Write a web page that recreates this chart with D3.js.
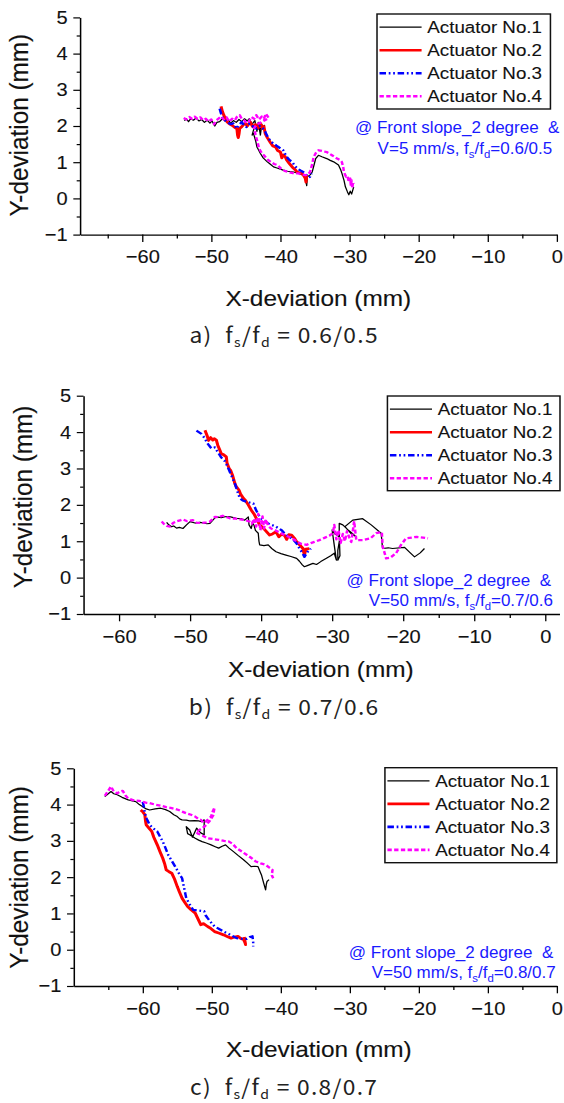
<!DOCTYPE html>
<html>
<head>
<meta charset="utf-8">
<script src="https://cdn.jsdelivr.net/npm/d3@7"></script>
<style>
  body { margin: 0; background: #fff; }
  svg text { font-family: Arial, "Liberation Sans", sans-serif; }
</style>
</head>
<body>
<div id="chart"></div>
<script>
// series labels and tick values
var seriesNames = ["Actuator No.1", "Actuator No.2", "Actuator No.3", "Actuator No.4"];
var xMajorTicks = [-60, -50, -40, -30, -20, -10, 0];
var xMinorTicks = [-65, -55, -45, -35, -25, -15, -5];
var yMajorTicks = [-1, 0, 1, 2, 3, 4, 5];
var yMinorTicks = [-0.5, 0.5, 1.5, 2.5, 3.5, 4.5];

var captionRatios = ["0.6/0.5", "0.7/0.6", "0.8/0.7"];
var speeds = ["5", "50", "50"];

// a) fs/fd = 0.6/0.5, V = 5 mm/s   [x-deviation, y-deviation]
var aAct1 = [[-53.9,2.15],[-53.6,2.2],[-53.3,2.12],[-53.0,2.2],[-52.6,2.16],[-52.2,2.22],[-51.8,2.14],[-51.4,2.18],[-51.0,2.1],[-50.6,2.16],[-50.2,2.08],[-49.9,2.14],[-49.5,2.0],[-49.2,2.1],[-48.8,2.12],[-48.4,2.2],[-48.0,2.14],[-47.6,2.18],[-47.2,2.08],[-46.8,2.15],[-46.4,2.1],[-46.0,2.18],[-45.6,2.12],[-45.2,2.2],[-44.8,2.14],[-44.5,2.2],[-44.1,2.05],[-43.7,2.15],[-43.4,1.85],[-43.2,2.1],[-42.9,1.75],[-42.7,2.05],[-42.5,1.9],[-42.3,2.02],[-42.6,1.95],[-43.2,1.92],[-43.8,1.95],[-44.1,1.75],[-43.9,1.8],[-43.6,1.6],[-43.4,1.42],[-43.2,1.35],[-42.9,1.24],[-42.5,1.12],[-41.9,1.01],[-41.5,0.95],[-41.0,0.87],[-40.5,0.84],[-39.6,0.78],[-39.0,0.75],[-38.1,0.73],[-37.5,0.7],[-36.7,0.64],[-36.4,0.55],[-36.2,0.35],[-36.1,0.6],[-35.7,0.65],[-35.4,0.73],[-35.1,0.95],[-34.9,1.1],[-34.5,1.19],[-34.0,1.15],[-33.3,1.1],[-32.8,1.05],[-32.3,1.01],[-31.6,0.92],[-31.3,0.8],[-31.1,0.69],[-30.8,0.5],[-30.6,0.32],[-30.3,0.18],[-30.1,0.1],[-29.9,0.2],[-29.7,0.12],[-29.5,0.25],[-29.4,0.32]];
var aAct2 = [[-48.6,2.54],[-48.4,2.4],[-48.2,2.3],[-47.9,2.18],[-47.7,2.11],[-47.4,2.06],[-47.0,2.02],[-46.6,1.96],[-46.3,1.93],[-46.2,1.75],[-46.1,1.68],[-46.0,1.78],[-45.9,1.93],[-45.6,1.98],[-45.3,2.05],[-45.1,2.07],[-44.8,2.0],[-44.4,2.11],[-44.0,1.98],[-43.6,2.04],[-43.2,1.95],[-42.9,2.07],[-42.6,1.94],[-42.4,1.99],[-42.2,1.79],[-41.9,1.68],[-41.5,1.56],[-41.1,1.45],[-40.7,1.42],[-40.4,1.32],[-40.0,1.28],[-39.8,1.12],[-39.6,1.2],[-39.3,1.15],[-39.1,1.06],[-38.7,0.96],[-38.3,0.87],[-37.9,0.8],[-37.6,0.73],[-37.2,0.7],[-36.9,0.69],[-36.6,0.62],[-36.4,0.55],[-36.3,0.45],[-36.2,0.64]];
var aAct3 = [[-48.8,2.48],[-48.6,2.35],[-48.4,2.24],[-48.0,2.15],[-47.7,2.11],[-47.2,2.05],[-46.8,2.07],[-46.5,1.98],[-46.3,1.93],[-46.0,2.02],[-45.6,2.11],[-45.2,2.0],[-44.9,1.97],[-44.5,2.06],[-44.1,2.02],[-43.8,1.95],[-43.4,1.93],[-43.0,2.0],[-42.7,1.97],[-42.4,1.9],[-42.2,1.84],[-41.9,1.72],[-41.7,1.65],[-41.3,1.56],[-41.0,1.51],[-40.6,1.46],[-40.3,1.42],[-40.0,1.38],[-39.6,1.33],[-39.3,1.22],[-39.1,1.15],[-38.7,1.06],[-38.3,1.01],[-38.0,0.92],[-37.6,0.83],[-37.1,0.77],[-36.7,0.73],[-36.2,0.64],[-35.9,0.58],[-35.7,0.6],[-35.5,0.69]];
var aAct4 = [[-54.0,2.22],[-53.6,2.18],[-53.2,2.25],[-52.8,2.2],[-52.4,2.26],[-52.0,2.2],[-51.6,2.24],[-51.2,2.16],[-50.8,2.2],[-50.4,2.12],[-50.0,2.18],[-49.6,2.05],[-49.3,2.15],[-49.0,2.2],[-48.6,2.26],[-48.2,2.18],[-47.8,2.24],[-47.4,2.12],[-47.0,2.2],[-46.6,2.16],[-46.3,2.25],[-45.9,2.3],[-45.6,2.2],[-45.2,2.15],[-44.9,2.08],[-44.6,2.12],[-44.2,2.25],[-43.8,2.2],[-43.5,2.3],[-43.1,2.18],[-42.7,2.26],[-42.4,2.2],[-42.1,2.34],[-41.9,2.28],[-41.7,2.22],[-42.8,2.1],[-43.4,2.05],[-43.8,1.95],[-43.6,1.75],[-43.3,1.55],[-43.1,1.38],[-42.7,1.25],[-42.4,1.19],[-41.9,1.08],[-41.4,1.01],[-40.9,0.95],[-40.4,0.92],[-39.9,0.82],[-39.4,0.76],[-38.9,0.73],[-38.2,0.7],[-37.4,0.69],[-36.9,0.66],[-36.4,0.64],[-36.0,0.66],[-35.7,0.74],[-35.4,0.95],[-35.2,1.14],[-34.9,1.25],[-34.5,1.33],[-34.0,1.31],[-33.3,1.28],[-32.6,1.2],[-31.8,1.1],[-31.3,1.05],[-31.1,1.0],[-30.9,0.85],[-30.8,0.72],[-30.5,0.6],[-30.3,0.62],[-30.1,0.45],[-29.9,0.55],[-29.8,0.35],[-29.7,0.5],[-29.6,0.28],[-29.5,0.45],[-29.4,0.4]];

// b) fs/fd = 0.7/0.6, V = 50 mm/s
var bAct1 = [[-53.3,1.52],[-53.0,1.45],[-52.6,1.4],[-52.3,1.42],[-51.9,1.36],[-51.5,1.38],[-51.0,1.35],[-50.5,1.45],[-50.0,1.54],[-49.3,1.5],[-48.6,1.52],[-47.6,1.48],[-47.2,1.49],[-46.6,1.62],[-46.3,1.67],[-45.6,1.65],[-44.9,1.68],[-44.3,1.67],[-43.5,1.63],[-42.8,1.62],[-42.3,1.58],[-41.8,1.67],[-41.7,1.45],[-41.4,1.35],[-41.2,1.5],[-41.0,1.44],[-40.8,1.3],[-40.4,1.22],[-40.3,1.0],[-40.2,0.9],[-39.6,0.88],[-39.0,0.9],[-38.5,0.8],[-37.9,0.71],[-37.2,0.66],[-36.5,0.62],[-35.8,0.58],[-35.0,0.53],[-34.6,0.45],[-34.2,0.35],[-33.9,0.3],[-33.5,0.33],[-32.7,0.39],[-32.2,0.36],[-31.6,0.44],[-30.8,0.53],[-30.2,0.6],[-29.7,0.67],[-29.4,0.48],[-29.6,0.75],[-30.0,1.31],[-29.6,1.2],[-29.2,1.15],[-28.9,1.1],[-29.2,0.75],[-29.2,0.48],[-28.9,0.6],[-29.0,1.2],[-29.0,1.49],[-28.5,1.45],[-27.8,1.32],[-27.2,1.22],[-26.6,1.12],[-27.3,1.2],[-28.2,1.4],[-27.1,1.58],[-25.7,1.62],[-24.5,1.45],[-23.1,1.22],[-22.9,0.8],[-22.1,0.82],[-21.5,0.8],[-19.8,0.83],[-19.0,0.68],[-18.4,0.57],[-17.6,0.68],[-17.0,0.8]];
var bAct2 = [[-47.9,4.05],[-47.6,3.9],[-47.4,3.77],[-47.1,3.85],[-46.8,3.78],[-46.6,3.82],[-46.3,3.78],[-46.1,3.64],[-45.8,3.5],[-45.6,3.4],[-45.3,3.38],[-44.9,3.32],[-44.8,3.15],[-44.5,3.0],[-44.3,2.95],[-44.0,2.8],[-43.7,2.59],[-43.5,2.5],[-43.1,2.4],[-42.9,2.3],[-42.5,2.18],[-42.2,2.12],[-41.8,2.0],[-41.4,1.86],[-41.0,1.75],[-40.6,1.6],[-40.2,1.45],[-39.8,1.38],[-39.4,1.3],[-38.8,1.17],[-38.4,1.2],[-37.9,1.26],[-37.5,1.12],[-37.1,1.2],[-36.7,1.16],[-36.4,1.05],[-36.1,1.18],[-35.7,1.17],[-35.3,1.08],[-35.0,0.99],[-34.7,0.93],[-34.1,0.8],[-34.0,0.7],[-33.9,0.62],[-33.7,0.78],[-33.2,0.8]];
var bAct3 = [[-49.1,4.04],[-48.4,3.95],[-47.9,3.82],[-47.6,3.7],[-47.0,3.55],[-46.5,3.58],[-46.1,3.45],[-45.6,3.3],[-45.1,3.2],[-44.7,3.04],[-44.3,2.86],[-43.7,2.59],[-43.3,2.35],[-43.0,2.18],[-42.6,2.12],[-42.0,2.08],[-41.1,2.04],[-40.7,1.85],[-40.2,1.67],[-39.6,1.55],[-38.8,1.47],[-37.9,1.4],[-37.1,1.3],[-36.5,1.17],[-36.0,1.12],[-35.5,1.05],[-35.0,0.94],[-34.6,0.8],[-34.2,0.68],[-33.9,0.57],[-33.5,0.7],[-33.0,0.8]];
var bAct4 = [[-54.0,1.54],[-53.7,1.48],[-53.3,1.42],[-52.8,1.4],[-52.4,1.5],[-51.9,1.55],[-51.3,1.58],[-51.0,1.6],[-50.4,1.55],[-49.6,1.58],[-49.1,1.51],[-48.4,1.5],[-47.7,1.52],[-47.2,1.54],[-46.9,1.6],[-46.5,1.67],[-46.0,1.66],[-45.4,1.7],[-44.8,1.66],[-44.4,1.63],[-43.6,1.62],[-42.9,1.6],[-42.3,1.58],[-41.6,1.54],[-41.3,1.48],[-41.0,1.62],[-40.7,1.4],[-40.4,1.75],[-40.1,1.3],[-39.8,1.68],[-39.6,1.35],[-39.3,1.6],[-39.0,1.42],[-38.6,1.35],[-38.0,1.3],[-37.2,1.22],[-36.5,1.15],[-35.8,1.1],[-35.0,1.0],[-34.4,0.93],[-33.6,0.9],[-33.0,0.95],[-32.5,0.98],[-31.8,1.03],[-31.0,1.1],[-30.4,1.15],[-29.9,1.22],[-29.7,1.45],[-29.4,1.05],[-29.1,1.3],[-28.8,0.95],[-28.5,1.2],[-28.2,1.0],[-27.9,1.28],[-27.5,1.05],[-27.3,0.98],[-26.9,1.55],[-26.6,1.03],[-25.7,1.03],[-24.6,1.08],[-23.8,1.22],[-23.0,1.25],[-22.9,0.87],[-22.4,0.53],[-21.8,0.55],[-21.0,0.67],[-20.3,0.9],[-19.6,1.08],[-18.8,1.1],[-18.1,1.12],[-17.2,1.1],[-16.5,1.08]];

// c) fs/fd = 0.8/0.7, V = 50 mm/s
var cAct1 = [[-65.5,4.22],[-65.0,4.3],[-64.6,4.36],[-64.2,4.3],[-63.7,4.27],[-63.0,4.2],[-62.1,4.13],[-61.5,4.1],[-61.0,4.08],[-60.5,4.0],[-60.0,3.94],[-59.5,3.88],[-59.0,3.85],[-58.2,3.88],[-57.4,3.9],[-56.7,3.86],[-56.1,3.81],[-55.5,3.72],[-55.0,3.67],[-54.6,3.6],[-54.3,3.58],[-53.7,3.57],[-53.2,3.55],[-52.5,3.56],[-51.9,3.55],[-51.5,3.53],[-51.1,3.58],[-51.1,3.4],[-51.1,3.17],[-51.6,3.22],[-52.2,3.35],[-52.8,3.1],[-53.2,3.3],[-53.7,3.39],[-53.5,3.2],[-53.2,3.17],[-52.8,3.12],[-52.4,3.07],[-51.9,3.02],[-51.4,2.98],[-50.8,2.94],[-50.1,2.89],[-49.5,2.84],[-49.0,2.8],[-48.5,2.85],[-48.0,2.89],[-47.5,2.8],[-46.9,2.71],[-46.2,2.6],[-45.4,2.48],[-44.8,2.38],[-44.3,2.29],[-43.8,2.3],[-43.3,2.29],[-43.0,2.15],[-42.8,2.06],[-42.5,1.85],[-42.2,1.65],[-42.1,1.8],[-42.0,1.88],[-41.7,1.93]];
var cAct2 = [[-60.3,3.85],[-60.0,3.8],[-59.7,3.72],[-59.6,3.55],[-59.5,3.44],[-59.1,3.35],[-58.7,3.26],[-58.4,3.1],[-57.9,2.89],[-57.5,2.7],[-57.1,2.52],[-56.8,2.35],[-56.6,2.2],[-56.2,2.15],[-55.8,2.11],[-55.4,1.95],[-55.0,1.74],[-54.7,1.6],[-54.3,1.42],[-53.9,1.3],[-53.5,1.19],[-53.0,1.1],[-52.4,1.01],[-52.0,0.85],[-51.6,0.69],[-51.2,0.72],[-50.6,0.64],[-50.1,0.58],[-49.6,0.5],[-49.0,0.46],[-48.3,0.41],[-47.7,0.36],[-47.2,0.32],[-46.7,0.35],[-46.2,0.37],[-45.8,0.31],[-45.4,0.28],[-45.2,0.2],[-45.1,0.14],[-45.3,0.35]];
var cAct3 = [[-60.0,4.08],[-59.8,3.9],[-59.7,3.76],[-59.4,3.6],[-59.0,3.44],[-58.5,3.35],[-57.9,3.26],[-57.5,3.12],[-57.1,2.98],[-56.7,2.8],[-56.3,2.61],[-55.8,2.45],[-55.3,2.29],[-54.8,2.12],[-54.3,1.97],[-54.0,1.7],[-53.7,1.42],[-53.2,1.25],[-52.7,1.1],[-52.0,1.08],[-51.1,1.06],[-50.9,0.95],[-50.6,0.87],[-50.1,0.75],[-49.6,0.64],[-49.0,0.58],[-48.3,0.5],[-47.4,0.42],[-46.4,0.32],[-45.6,0.3],[-44.9,0.3],[-44.5,0.35],[-44.1,0.37],[-44.0,0.2],[-44.0,0.09]];
var cAct4 = [[-65.5,4.24],[-65.0,4.38],[-64.6,4.5],[-64.2,4.36],[-63.7,4.31],[-63.3,4.36],[-62.9,4.38],[-62.5,4.25],[-62.1,4.17],[-61.5,4.13],[-61.0,4.11],[-60.5,4.1],[-60.0,4.08],[-59.5,4.05],[-59.0,4.04],[-58.2,4.0],[-57.4,3.97],[-56.6,3.93],[-55.8,3.9],[-55.3,3.88],[-54.8,3.85],[-54.2,3.8],[-53.7,3.76],[-53.0,3.72],[-52.4,3.67],[-51.9,3.6],[-51.6,3.58],[-51.2,3.5],[-50.9,3.53],[-50.5,3.6],[-50.1,3.67],[-49.9,3.8],[-49.6,3.92],[-49.8,3.7],[-50.3,3.55],[-51.0,3.4],[-51.8,3.3],[-52.3,3.25],[-52.0,3.2],[-51.6,3.17],[-51.1,3.12],[-50.6,3.07],[-49.8,3.05],[-49.0,3.03],[-48.2,3.0],[-47.5,2.98],[-47.0,2.92],[-46.4,2.8],[-45.6,2.7],[-44.9,2.61],[-44.2,2.52],[-43.6,2.43],[-42.9,2.38],[-42.2,2.34],[-41.7,2.27],[-41.2,2.2],[-41.3,2.05],[-41.1,1.97]];

// drawing size; the figure is stretched a bit horizontally, so draw in a
// narrower viewBox and let the svg stretch it
var svgWidth = 564;
var svgHeight = 1103;
var viewWidth = 520;

var lineColors = ["#000000", "#ff0000", "#0000ff", "#ff00ff"];
var lineWidths = [1.2, 2.8, 2.3, 2.3];
var lineDashes = [null, null, "6,2.5,1.6,2.5,1.6,2.5", "4,2.2"];

// per panel layout (viewBox units)
var panels = [
  { label: "a)", series: [aAct1, aAct2, aAct3, aAct4], xDomain: [-69, 0],
    xRange: [73.8, 513.4], yRange: [234.6, 17.4],
    legend: [347.6, 14, 159.9, 95], note: [[515.8, 133.5], [509.2, 154]],
    yTitle: [25.8, 125.3], xTitle: [293.5, 306], caption: 343 },
  { label: "b)", series: [bAct1, bAct2, bAct3, bAct4], xDomain: [-65, 2],
    xRange: [77.0, 515.8], yRange: [614, 395.7],
    legend: [357.2, 396, 159.1, 94.7], note: [[508.1, 586], [509.8, 606]],
    yTitle: [29.1, 497], xTitle: [295.8, 677], caption: 715 },
  { label: "c)", series: [cAct1, cAct2, cAct3, cAct4], xDomain: [-70, 0],
    xRange: [68.0, 513.4], yRange: [986, 768.3],
    legend: [354.9, 767.7, 158.5, 95], note: [[510.1, 958], [512.4, 978.5]],
    yTitle: [25.8, 877.5], xTitle: [294.0, 1056.7], caption: 1095 }
];

var svg = d3.select("#chart")
  .append("svg")
  .attr("width", svgWidth)
  .attr("height", svgHeight)
  .attr("viewBox", `0 0 ${viewWidth} ${svgHeight}`)
  .attr("preserveAspectRatio", "none");

// scanned figure has slightly soft text, thicken a touch with a thin stroke
function heavy(sel, color, w) {
  sel.attr("fill", color)
    .attr("stroke", color)
    .attr("stroke-width", w)
    .attr("paint-order", "stroke");
}

function styleAxis(g) {
  g.attr("font-family", "Arial, 'Liberation Sans', sans-serif")
    .attr("font-size", 18.5);
  g.select(".domain").attr("stroke", "#000").attr("stroke-width", 1.4);
  g.selectAll(".tick line").attr("stroke", "#000").attr("stroke-width", 1.2);
  g.selectAll(".tick text").call(heavy, "#111", 0.12);
}

panels.forEach(function(p, i) {
  var xScale = d3.scaleLinear().domain(p.xDomain).range(p.xRange);
  var yScale = d3.scaleLinear().domain([-1, 5]).range(p.yRange);
  var g = svg.append("g");

  // minor ticks first, no labels
  g.append("g")
    .attr("transform", `translate(0, ${p.yRange[0]})`)
    .call(d3.axisBottom(xScale)
      .tickValues(xMinorTicks.filter(v => v > p.xDomain[0]))
      .tickSize(4).tickSizeOuter(0).tickFormat(""))
    .call(styleAxis)
    .call(a => a.select(".domain").remove());

  g.append("g")
    .attr("transform", `translate(${p.xRange[0]}, 0)`)
    .call(d3.axisLeft(yScale)
      .tickValues(yMinorTicks)
      .tickSize(3.1).tickSizeOuter(0).tickFormat(""))
    .call(styleAxis)
    .call(a => a.select(".domain").remove());

  // major axes
  g.append("g")
    .attr("transform", `translate(0, ${p.yRange[0]})`)
    .call(d3.axisBottom(xScale)
      .tickValues(xMajorTicks)
      .tickSize(7.3).tickSizeOuter(0).tickPadding(8.3)
      .tickFormat(d3.format("d")))
    .call(styleAxis);

  g.append("g")
    .attr("transform", `translate(${p.xRange[0]}, 0)`)
    .call(d3.axisLeft(yScale)
      .tickValues(yMajorTicks)
      .tickSize(6.2).tickSizeOuter(0).tickPadding(5.3)
      .tickFormat(d3.format("d")))
    .call(styleAxis);

  // traces
  var line = d3.line()
    .x(d => xScale(d[0]))
    .y(d => yScale(d[1]));

  p.series.forEach(function(data, k) {
    g.append("path")
      .datum(data)
      .attr("d", line)
      .attr("fill", "none")
      .attr("stroke", lineColors[k])
      .attr("stroke-width", lineWidths[k])
      .attr("stroke-dasharray", lineDashes[k])
      .attr("stroke-linejoin", "round");
  });

  // legend
  var lg = g.append("g")
    .attr("transform", `translate(${p.legend[0]}, ${p.legend[1]})`);

  lg.append("rect")
    .attr("width", p.legend[2])
    .attr("height", p.legend[3])
    .attr("fill", "#fff")
    .attr("stroke", "#111")
    .attr("stroke-width", 1.4);

  seriesNames.forEach(function(name, k) {
    var yy = 13.2 + k * 23;
    lg.append("line")
      .attr("x1", 2.3).attr("x2", 41.1)
      .attr("y1", yy).attr("y2", yy)
      .attr("stroke", lineColors[k])
      .attr("stroke-width", k === 0 ? 1.2 : 2.6)
      .attr("stroke-dasharray", lineDashes[k]);
    lg.append("text")
      .attr("x", 46.4)
      .attr("y", yy)
      .attr("dy", "0.35em")
      .attr("font-size", 17.3)
      .call(heavy, "#111", 0.12)
      .text(name);
  });

  // test condition note
  g.append("text")
    .attr("x", p.note[0][0])
    .attr("y", p.note[0][1])
    .attr("text-anchor", "end")
    .attr("font-size", 15.7)
    .attr("fill", "#1a1aff")
    .style("white-space", "pre")
    .text("@ Front slope_2 degree  &");

  var note2 = g.append("text")
    .attr("x", p.note[1][0])
    .attr("y", p.note[1][1])
    .attr("text-anchor", "end")
    .attr("font-size", 15.7)
    .attr("fill", "#1a1aff");
  note2.append("tspan").text(`V=${speeds[i]} mm/s, f`);
  note2.append("tspan").attr("font-size", 10.5).attr("dy", 4).text("s");
  note2.append("tspan").attr("dy", -4).text("/f");
  note2.append("tspan").attr("font-size", 10.5).attr("dy", 4).text("d");
  note2.append("tspan").attr("dy", -4).text(`=${captionRatios[i]}`);

  // axis titles
  g.append("text")
    .attr("transform", `translate(${p.yTitle[0]}, ${p.yTitle[1]}) rotate(-90)`)
    .attr("text-anchor", "middle")
    .attr("font-size", 24.3)
    .call(heavy, "#111", 0.15)
    .text("Y-deviation (mm)");

  g.append("text")
    .attr("x", p.xTitle[0])
    .attr("y", p.xTitle[1])
    .attr("text-anchor", "middle")
    .attr("font-size", 22.5)
    .call(heavy, "#111", 0.15)
    .text("X-deviation (mm)");

  // caption under each panel
  var cap = g.append("text")
    .attr("x", 262)
    .attr("y", p.caption)
    .attr("text-anchor", "middle")
    .attr("font-size", 21)
    .attr("letter-spacing", 1.2)
    .attr("fill", "#222")
    .style("font-family", "'Noto Sans CJK KR', 'Noto Sans', sans-serif")
    .style("white-space", "pre");
  cap.append("tspan").text(`${p.label}  f`);
  cap.append("tspan").attr("font-size", 13).attr("dy", 4).text("s");
  cap.append("tspan").attr("dy", -4).text("/f");
  cap.append("tspan").attr("font-size", 13).attr("dy", 4).text("d");
  cap.append("tspan").attr("dy", -4).text(` = ${captionRatios[i]}`);
});
</script>
</body>
</html>
